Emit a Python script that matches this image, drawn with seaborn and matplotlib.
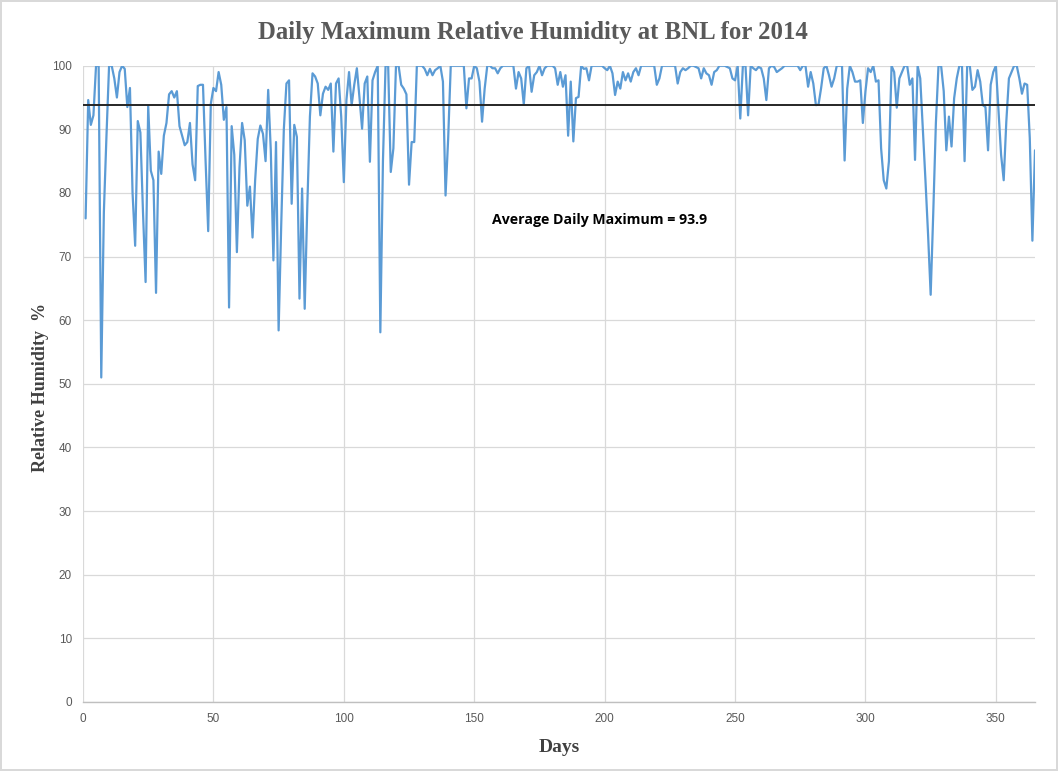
import numpy as np
import pandas as pd
import matplotlib
matplotlib.use("Agg")
import matplotlib.pyplot as plt
import seaborn as sns

# daily maximum relative humidity (%), day 1..365
rh_max = [
    76, 94.6, 90.7, 92.2, 100, 100, 51, 77, 89, 100,
    100, 98, 95, 99, 100, 99.5, 93.5, 96.5, 80, 71.7,
    91.3, 89.5, 77, 66, 93.7, 83.5, 82, 64.3, 86.5, 83,
    89, 91, 95.5, 96, 95, 96, 90.5, 89, 87.5, 88,
    91, 84.5, 82, 96.8, 97, 97, 85, 74, 94, 96.5,
    96, 99, 97, 91.5, 93.5, 62, 90.5, 86, 70.7, 84,
    91, 88.3, 78, 81, 73, 82, 88.5, 90.6, 89.3, 85,
    96.2, 86.7, 69.4, 88, 58.4, 75, 90, 97.2, 97.7, 78.3,
    90.7, 88.8, 63.4, 80.7, 61.8, 78, 92, 98.8, 98.3, 97.2,
    92.2, 95.6, 96.7, 96.2, 97.2, 86.5, 97.2, 98, 92, 81.7,
    94.6, 99, 93.8, 97, 99.6, 95, 90.1, 97.2, 98.3, 84.9,
    97.7, 99, 100, 58.1, 85, 100, 100, 83.3, 87, 100,
    100, 97, 96.4, 95.5, 81.3, 88, 88, 100, 100, 100,
    99.5, 98.5, 99.5, 98.5, 99.3, 99.6, 100, 97.5, 79.6, 88.5,
    100, 100, 100, 100, 100, 100, 93.3, 98, 98, 100,
    99.6, 97.5, 91.2, 96.4, 100, 100, 99.6, 99.6, 98.8, 99.6,
    100, 100, 100, 100, 100, 96.4, 99, 98, 93.9, 99.6,
    100, 95.9, 98.5, 99, 100, 98.5, 99.6, 100, 100, 100,
    99.6, 97, 99, 96.7, 98.5, 89, 97.5, 88.1, 94.9, 95.1,
    100, 99.5, 99.6, 97.7, 100, 100, 100, 100, 100, 99.6,
    99.3, 100, 98.8, 95.4, 97.5, 96.4, 99, 97.7, 98.8, 97.5,
    99, 99.6, 98.5, 100, 100, 100, 100, 100, 100, 97,
    98, 100, 100, 100, 100, 100, 100, 97.2, 99, 99.6,
    99.3, 99.6, 100, 100, 99.8, 99.6, 98, 99.6, 98.8, 98.5,
    97, 99, 99.3, 100, 100, 100, 99.8, 99.6, 98, 97.7,
    100, 91.7, 100, 100, 92.2, 100, 99.6, 99.3, 99.8, 99.6,
    98, 94.6, 99.6, 100, 99.8, 99, 99.3, 99.6, 100, 100,
    100, 100, 100, 100, 99.3, 100, 100, 96.7, 99, 97.2,
    93.8, 93.9, 96.5, 99.6, 100, 98.5, 96.7, 98, 100, 100,
    100, 85.1, 96.4, 100, 99, 97.5, 97.5, 97.7, 91, 96,
    99.6, 99, 100, 97.5, 97.7, 87, 82, 80.7, 85, 100,
    99, 93.4, 98, 99, 100, 100, 97, 98, 85.2, 100,
    98, 90, 82, 73.5, 64, 77, 91, 100, 100, 96,
    86.7, 92, 87.3, 94.9, 98, 100, 100, 85, 100, 100,
    96.2, 96.7, 99.3, 97.5, 93.8, 93.5, 86.7, 97, 99, 100,
    93, 86, 82, 91.2, 98, 99, 100, 100, 98, 95.6,
    97.2, 97, 88.6, 72.5, 86.7,
]
days = list(range(1, len(rh_max) + 1))
avg_max = 93.9

x_ticks = [0, 50, 100, 150, 200, 250, 300, 350]
y_ticks = [0, 10, 20, 30, 40, 50, 60, 70, 80, 90, 100]

df = pd.DataFrame({"Day": days, "RH": rh_max})

sns.set_style("whitegrid")
plt.rcParams["font.family"] = ["DejaVu Sans"]

fig = plt.figure(figsize=(10.58, 7.71), dpi=100)
fig.patch.set_facecolor("white")
fig.patch.set_edgecolor("#d9d9d9")
fig.patch.set_linewidth(1.5)
ax = fig.add_axes([83 / 1058, 1 - 702 / 771, (1035 - 83) / 1058, (702 - 65.7) / 771])

sns.lineplot(data=df, x="Day", y="RH", ax=ax, color="#5b9bd5", linewidth=1.6)
ax.axhline(avg_max, color="#262626", linewidth=1.4)

ax.set_xlim(0, 365)
ax.set_ylim(0, 100)
ax.set_xticks(x_ticks)
ax.set_yticks(y_ticks)
ax.grid(True, color="#d9d9d9", linewidth=0.9)
for side in ["top", "right", "left"]:
    ax.spines[side].set_visible(False)
ax.spines["bottom"].set_color("#bfbfbf")
ax.spines["bottom"].set_linewidth(1.0)
ax.tick_params(length=0, colors="#595959", labelsize=8.5, pad=8)
for lab in ax.get_xticklabels() + ax.get_yticklabels():
    lab.set_fontfamily(["Liberation Sans Narrow", "Liberation Sans", "DejaVu Sans"])

serif = ["Liberation Serif", "DejaVu Serif"]
ax.set_xlabel("Days", fontsize=14, fontweight="bold", color="#404040", family=serif)
ax.set_ylabel("Relative Humidity  %", fontsize=13, fontweight="bold", color="#404040", family=serif)
ax.xaxis.set_label_coords(0.5, -0.058)
ax.yaxis.set_label_coords(-0.036, 0.495)

fig.text(0.504, 1 - 32 / 771, "Daily Maximum Relative Humidity at BNL for 2014",
         ha="center", va="center", fontsize=17.8, fontweight="bold", color="#595959", family=serif)

ax.text(157, 75.7, "Average Daily Maximum = %.1f" % avg_max, ha="left", va="center",
        fontsize=10.2, fontweight="bold", color="black", family=["Open Sans", "DejaVu Sans"])

fig.savefig("out.png", dpi=100)
